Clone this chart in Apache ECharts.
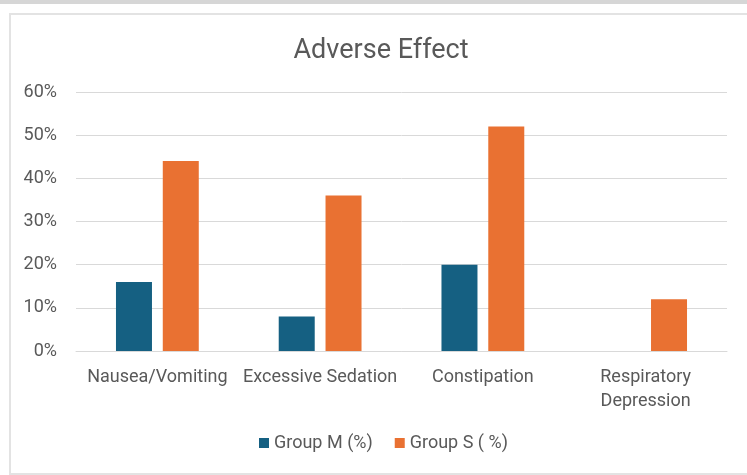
<!DOCTYPE html>
<html>
<head>
<meta charset="utf-8">
<script src="https://cdn.jsdelivr.net/npm/echarts@6/dist/echarts.min.js"></script>
<style>
  html, body { margin: 0; padding: 0; background: #fff; }
  .topband { position: absolute; left: 0; top: 0; width: 747px; height: 4px; background: #d6d6d6; }
  .frame { position: absolute; left: 9px; top: 13px; width: 760px; height: 458px;
           border-left: 2px solid #e3e3e3; border-top: 2px solid #e3e3e3; border-bottom: 2px solid #e3e3e3; }
  #chart { position: absolute; left: 0; top: 0; width: 747px; height: 475px; }
</style>
</head>
<body>
<div class="topband"></div>
<div class="frame"></div>
<div id="chart"></div>
<script>
  // 不良反应 数据
  const categories = ['Nausea/Vomiting', 'Excessive Sedation', 'Constipation', 'Respiratory\nDepression'];
  const groupM = [16, 8, 20, 0];
  const groupS = [44, 36, 52, 12];
  const seriesNames = ['Group M (%)', 'Group S ( %)'];

  let eChart = echarts.init(document.getElementById('chart'));
  let option = {
    textStyle: { fontFamily: 'Roboto' },
    title: {
      text: 'Adverse Effect',
      left: 376,
      textAlign: 'center',
      top: 33,
      textStyle: {
        fontFamily: 'Roboto',
        fontWeight: 'normal',
        fontSize: 27,
        color: '#595959'
      }
    },
    legend: {
      data: seriesNames,
      left: 254,
      top: 429,
      itemWidth: 10,
      itemHeight: 10,
      itemGap: 22,
      icon: 'rect',
      textStyle: {
        fontFamily: 'Roboto',
        fontSize: 18,
        color: '#595959'
      }
    },
    grid: {
      left: 76,
      right: 20,
      top: 92,
      bottom: 124
    },
    xAxis: {
      type: 'category',
      data: categories,
      axisLine: { lineStyle: { color: '#d9d9d9', width: 1 } },
      axisTick: { show: false },
      axisLabel: {
        fontFamily: 'Roboto',
        fontSize: 18,
        color: '#595959',
        margin: 14,
        lineHeight: 24,
        interval: 0
      }
    },
    yAxis: {
      type: 'value',
      min: 0,
      max: 60,
      interval: 10,
      axisLine: { show: false },
      axisTick: { show: false },
      splitLine: { lineStyle: { color: '#d9d9d9', width: 1 } },
      axisLabel: {
        formatter: '{value}%',
        fontFamily: 'Roboto',
        fontSize: 18,
        color: '#595959',
        margin: 19
      }
    },
    series: [
      {
        name: seriesNames[0],
        type: 'bar',
        data: groupM,
        barWidth: 36,
        barGap: '30%',
        itemStyle: { color: '#156082' }
      },
      {
        name: seriesNames[1],
        type: 'bar',
        data: groupS,
        barWidth: 36,
        barGap: '30%',
        itemStyle: { color: '#E97132' }
      }
    ]
  };
  eChart.setOption(option);
</script>
</body>
</html>
